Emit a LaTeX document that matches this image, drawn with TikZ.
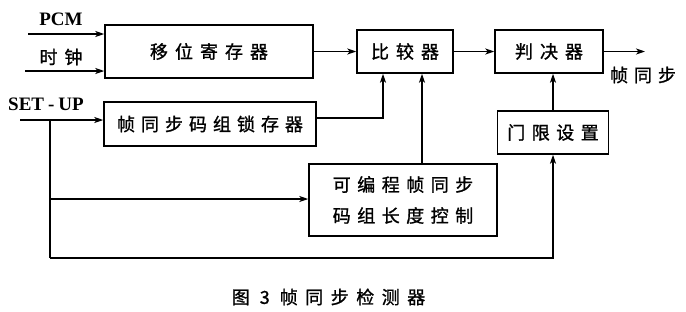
\documentclass[tikz,border=0pt]{standalone}
\usepackage{fontspec}
\setmainfont{Liberation Serif}
\newfontfamily\cjk[FakeBold=1.2]{Noto Sans CJK SC}
\usetikzlibrary{arrows.meta,calc}
\makeatletter
\newcommand\spacedtext[2]{\def\sp@first{1}\@tfor\sp@c:=#2\do{\ifnum\sp@first=1 \def\sp@first{0}\else\hspace{#1}\fi\sp@c}}
\makeatother
\tikzset{
  box/.style={draw, line width=1.5pt, inner sep=0pt, font=\cjk\fontsize{18}{21}\selectfont},
  arr/.style={line width=1.4pt, -{Stealth[length=9pt,width=6pt,inset=2.5pt]}},
  wire/.style={line width=1.4pt},
  lbl/.style={inner sep=0pt, font=\bfseries\fontsize{19}{22}\selectfont},
  clbl/.style={inner sep=0pt, font=\cjk\fontsize{18}{21}\selectfont}
}
\begin{document}
\begin{tikzpicture}[x=1pt,y=-1pt]
\useasboundingbox (0,0) rectangle (686,311);
% boxes
\node[box, minimum width=208pt, minimum height=53pt] (shift) at (209,51.5) {\spacedtext{7pt}{移位寄存器}};
\node[box, minimum width=96pt, minimum height=43pt] (comp) at (405,51.5) {\spacedtext{7pt}{比较器}};
\node[box, minimum width=108pt, minimum height=43pt] (judge) at (549,51.5) {\spacedtext{7pt}{判决器}};
\node[box, minimum width=212pt, minimum height=44pt] (latch) at (210,124) {\spacedtext{6pt}{帧同步码组锁存器}};
\node[box, minimum width=111pt, minimum height=43pt] (thresh) at (553,132.5) {\spacedtext{6.5pt}{门限设置}};
\node[box, minimum width=188pt, minimum height=72pt, align=center] (prog) at (403,200)
  {\spacedtext{6.5pt}{可编程帧同步}\\[10pt]\spacedtext{6.5pt}{码组长度控制}};
% labels
\node[lbl] (pcm) at (61,19) {PCM};
\node[clbl] (clk) at (61,57) {\spacedtext{7pt}{时钟}};
\node[lbl] (setup) at (46,104) {SET\kern4pt-\kern4pt UP};
\node[clbl] (sync) at (643,75) {\spacedtext{6pt}{帧同步}};
\node[clbl] (cap) at (328.5,297) {图\hspace{10pt}3\hspace{10pt}\spacedtext{7.5pt}{帧同步检测器}};
% free ends
\coordinate (pcmin) at (28,34);
\coordinate (clkin) at (25,71);
\coordinate (suin) at (20,120);
\coordinate (out) at (645,51.5);
\coordinate (j1) at (50,120);
\coordinate (j2) at (50,199);
\coordinate (j3) at (50,258);
% connectors
\draw[arr] (pcmin) -- (pcmin -| shift.west);
\draw[arr] (clkin) -- (clkin -| shift.west);
\draw[arr] (shift.east) -- (comp.west);
\draw[arr] (comp.east) -- (judge.west);
\draw[arr] (judge.east) -- (out);
\draw[arr] (suin) -- (suin -| latch.west);
\draw[wire] (j1) -- (j3);
\draw[arr] (j2) -- (j2 -| prog.west);
\draw[arr] (j3) -| (thresh.south);
\draw[arr] ([yshift=6pt]latch.east) -| ([xshift=-22pt]comp.south);
\draw[arr] ([xshift=19pt]prog.north) -- ([xshift=19pt]prog.north |- comp.south);
\draw[arr] (thresh.north) -- (thresh.north |- judge.south);
\end{tikzpicture}
\end{document}
